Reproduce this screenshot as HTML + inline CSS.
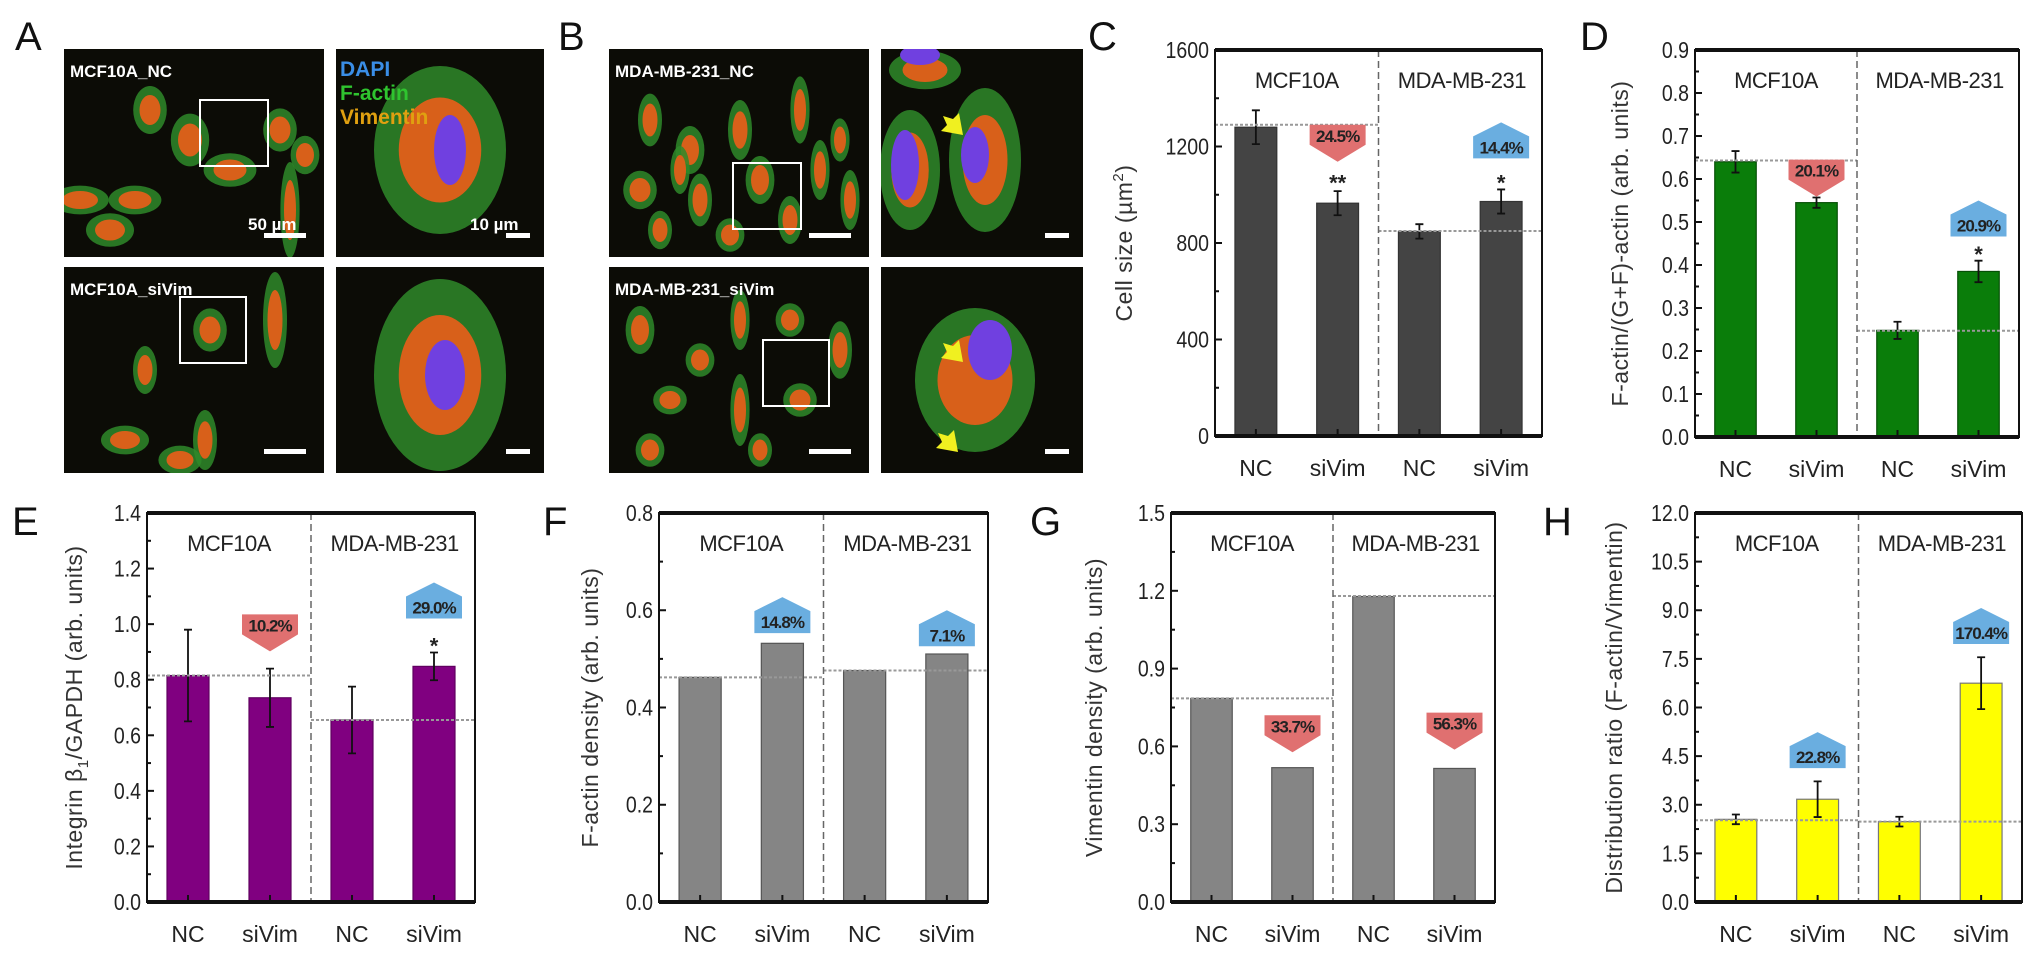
<!DOCTYPE html>
<html><head><meta charset="utf-8"><style>
html,body{margin:0;padding:0;background:#fff;}
svg{display:block;font-family:"Liberation Sans",sans-serif;}
</style></head><body>
<svg id="fig" width="2032" height="953" viewBox="0 0 2032 953" xmlns="http://www.w3.org/2000/svg">
<g font-size="40" fill="#111">
<text x="15" y="50">A</text>
<text x="558" y="50">B</text>
<text x="1088" y="50">C</text>
<text x="1580" y="50">D</text>
<text x="12" y="535">E</text>
<text x="543" y="535">F</text>
<text x="1030" y="535">G</text>
<text x="1543" y="535">H</text>
</g>
<g id="images"></g>
<g id="charts"></g>
</svg>
<script>
// ---- data ----
const categories = ["NC","siVim","NC","siVim"];
const groups = ["MCF10A","MDA-MB-231"];
const cVals=[1280,965,848,972]; const cErr=[70,50,30,50]; const cRef=[1290,850];
const cTicks=[0,400,800,1200,1600];
const cAnnText=["24.5%","14.4%"]; const cAnnDir=["down","up"]; const cAnnVal=[1290,1300]; const cStars=["**","*"]; const cStarVal=[1060,1060];
const dVals=[0.64,0.545,0.248,0.385]; const dErr=[0.025,0.012,0.02,0.025]; const dRef=[0.643,0.247];
const dTicks=[0.0,0.1,0.2,0.3,0.4,0.5,0.6,0.7,0.8,0.9];
const dAnnText=["20.1%","20.9%"]; const dAnnDir=["down","up"]; const dAnnVal=[0.645,0.55]; const dStars=["","*"]; const dStarVal=[0,0.43];
const eVals=[0.815,0.735,0.655,0.848]; const eErr=[0.165,0.105,0.12,0.05]; const eRef=[0.815,0.655];
const eTicks=[0.0,0.2,0.4,0.6,0.8,1.0,1.2,1.4];
const eAnnText=["10.2%","29.0%"]; const eAnnDir=["down","up"]; const eAnnVal=[1.035,1.15]; const eStars=["","*"]; const eStarVal=[0,0.93];
const fVals=[0.462,0.532,0.476,0.51]; const fErr=[0,0,0,0]; const fRef=[0.462,0.476];
const fTicks=[0.0,0.2,0.4,0.6,0.8];
const fAnnText=["14.8%","7.1%"]; const fAnnDir=["up","up"]; const fAnnVal=[0.627,0.6]; const fStars=["",""]; const fStarVal=[0,0];
const gVals=[0.785,0.518,1.178,0.515]; const gErr=[0,0,0,0]; const gRef=[0.785,1.18];
const gTicks=[0.0,0.3,0.6,0.9,1.2,1.5];
const gAnnText=["33.7%","56.3%"]; const gAnnDir=["down","down"]; const gAnnVal=[0.72,0.73]; const gStars=["",""]; const gStarVal=[0,0];
const hVals=[2.55,3.17,2.48,6.75]; const hErr=[0.15,0.55,0.15,0.8]; const hRef=[2.52,2.48];
const hTicks=[0.0,1.5,3.0,4.5,6.0,7.5,9.0,10.5,12.0];
const hAnnText=["22.8%","170.4%"]; const hAnnDir=["up","up"]; const hAnnVal=[5.24,9.07]; const hStars=["",""]; const hStarVal=[0,0];

const NS="http://www.w3.org/2000/svg";
function mk(tag,attrs,parent){const e=document.createElementNS(NS,tag);for(const k in attrs)e.setAttribute(k,attrs[k]);parent.appendChild(e);return e;}

function panel(p){
  const root=document.getElementById('charts');
  const g=mk('g',{},root);
  
  
  const max=p.ticks[p.ticks.length-1];
  const y=v=>p.b-(v/max)*(p.b-p.t);
  const W=p.r-p.l;
  const x=i=>p.l+(i+0.5)*W/4;
  const bw=W*0.128;
  p.vals.forEach((v,i)=>{
    const r=mk('rect',{x:x(i)-bw/2,y:y(v),width:bw,height:p.b-y(v),fill:p.color,stroke:p.stroke,'stroke-width':1.2},g);
    
    
    if(p.err[i]>0){
      const eb=mk('path',{d:`M${x(i)} ${y(v+p.err[i])}V${y(v-p.err[i])}M${x(i)-4} ${y(v+p.err[i])}h8M${x(i)-4} ${y(v-p.err[i])}h8`,stroke:'#111','stroke-width':1.8,fill:'none'},g);
      
      
    }
  });
  p.ref.forEach((v,k)=>{
    const ln=mk('line',{x1:p.l+k*W/2,x2:p.l+(k+1)*W/2,y1:y(v),y2:y(v),stroke:'#999','stroke-width':2,'stroke-dasharray':'3,2'},g);
    
    
  });
  const dv=mk('line',{x1:p.l+W/2,x2:p.l+W/2,y1:p.t,y2:p.b,stroke:'#666','stroke-width':1.5,'stroke-dasharray':'7,4'},g);
  
  
  const fr=mk('path',{d:`M${p.l} ${p.t}H${p.r}V${p.b}H${p.l}Z`,fill:'none',stroke:'#111','stroke-width':2},g);
  
  
  mk('line',{x1:p.l,x2:p.r,y1:p.t,y2:p.t,stroke:'#111','stroke-width':4},g);
  mk('line',{x1:p.l,x2:p.r,y1:p.b,y2:p.b,stroke:'#111','stroke-width':4},g);
  p.ticks.forEach((v,i)=>{
    mk('line',{x1:p.l,x2:p.l+7,y1:y(v),y2:y(v),stroke:'#111','stroke-width':2},g);
    if(i<p.ticks.length-1){const m=(v+p.ticks[i+1])/2;mk('line',{x1:p.l,x2:p.l+4,y1:y(m),y2:y(m),stroke:'#111','stroke-width':2},g);}
    const t=mk('text',{x:p.l-6,y:y(v)+8,'text-anchor':'end','font-size':23,fill:'#222',transform:`translate(${p.l-6} 0) scale(0.85 1) translate(${-(p.l-6)} 0)`},g);
    t.textContent=p.fmt(v);
    
    
  });
  categories.forEach((c,i)=>{
    mk('line',{x1:x(i),x2:x(i),y1:p.b,y2:p.b-7,stroke:'#111','stroke-width':2},g);
    const t=mk('text',{x:x(i),y:p.b+40,'text-anchor':'middle','font-size':23,fill:'#222'},g);
    t.textContent=c;
    
    
  });
  groups.forEach((gr,k)=>{
    const t=mk('text',{x:p.l+W*(k===0?0.25:0.755),y:p.t+38,'text-anchor':'middle','font-size':22,fill:'#222','letter-spacing':'-0.5'},g);
    t.textContent=gr;
    
    
  });
  const yt=mk('text',{x:0,y:0,'text-anchor':'middle','font-size':23,fill:'#333','letter-spacing':'0.5',transform:`translate(${p.tx} ${(p.t+p.b)/2}) rotate(-90)`},g);
  yt.textContent=p.title;
  if(p.sub){const off=p.subDown?6:-9;const ts=mk('tspan',{'font-size':15,dy:off},yt);ts.textContent=p.sub;const t2=mk('tspan',{dy:-off},yt);t2.textContent=p.title2;}
  
  
  p.annText.forEach((txt,k)=>{
    const i=k*2+1, cx=x(i), w=56, v=y(p.annVal[k]);
    let d,ty,fill;
    if(p.annDir[k]==='down'){fill='#e07070';d=`M${cx-w/2} ${v}h${w}v20l${-w/2} 17l${-w/2} -17Z`;ty=v+17;}
    else{fill='#6aaee0';d=`M${cx} ${v}l${w/2} 14v22h${-w}v-22Z`;ty=v+31;}
    const a=mk('path',{d:d,fill:fill},g);
    
    
    const t=mk('text',{x:cx,y:ty,'text-anchor':'middle','font-size':17,'font-weight':'bold',fill:'#222','letter-spacing':'-1'},g);
    t.textContent=txt;
    
    
    if(p.stars[k]){const s=mk('text',{x:cx,y:y(p.starVal[k])+10,'text-anchor':'middle','font-size':22,'font-weight':'bold',fill:'#222'},g);s.textContent=p.stars[k];
      
      }
  });
}
const f1=v=>v.toFixed(1), f0=v=>String(v);
panel({name:'chart-c-cell-size',l:1215,r:1542,t:50,b:436,vals:cVals,err:cErr,ref:cRef,ticks:cTicks,fmt:f0,color:'#444',stroke:'#333',title:'Cell size (µm',sub:'2',title2:')',tx:1132,annText:cAnnText,annDir:cAnnDir,annVal:cAnnVal,stars:cStars,starVal:cStarVal});
panel({name:'chart-d-factin-ratio',l:1695,r:2019,t:50,b:437,vals:dVals,err:dErr,ref:dRef,ticks:dTicks,fmt:f1,color:'#0a7d0a',stroke:'#065006',title:'F-actin/(G+F)-actin (arb. units)',tx:1628,annText:dAnnText,annDir:dAnnDir,annVal:dAnnVal,stars:dStars,starVal:dStarVal});
panel({name:'chart-e-integrin',l:147,r:475,t:513,b:902,vals:eVals,err:eErr,ref:eRef,ticks:eTicks,fmt:f1,color:'#800080',stroke:'#600060',title:'Integrin β',sub:'1',subDown:true,title2:'/GAPDH (arb. units)',tx:82,annText:eAnnText,annDir:eAnnDir,annVal:eAnnVal,stars:eStars,starVal:eStarVal});
panel({name:'chart-f-factin-density',l:659,r:988,t:513,b:902,vals:fVals,err:fErr,ref:fRef,ticks:fTicks,fmt:f1,color:'#858585',stroke:'#555',title:'F-actin density (arb. units)',tx:598,annText:fAnnText,annDir:fAnnDir,annVal:fAnnVal,stars:fStars,starVal:fStarVal});
panel({name:'chart-g-vimentin-density',l:1171,r:1495,t:513,b:902,vals:gVals,err:gErr,ref:gRef,ticks:gTicks,fmt:f1,color:'#858585',stroke:'#555',title:'Vimentin density (arb. units)',tx:1102,annText:gAnnText,annDir:gAnnDir,annVal:gAnnVal,stars:gStars,starVal:gStarVal});
panel({name:'chart-h-distribution-ratio',l:1695,r:2022,t:513,b:902,vals:hVals,err:hErr,ref:hRef,ticks:hTicks,fmt:f1,color:'#ffff00',stroke:'#777',title:'Distribution ratio (F-actin/Vimentin)',tx:1622,annText:hAnnText,annDir:hAnnDir,annVal:hAnnVal,stars:hStars,starVal:hStarVal});

// ---- micrographs (decorative) ----
const im=document.getElementById('images');
const cells=[
 {x:64,y:49,w:260,h:208,name:'image-mcf10a-nc',label:'MCF10A_NC',blobs:[[230,170,22,14],[190,140,16,22],[150,110,14,20],[80,200,24,12],[135,200,22,12],[280,130,14,18],[305,155,12,16],[110,230,20,14],[290,210,8,40]]},
 {x:336,y:49,w:208,h:208,name:'image-mcf10a-nc-zoom',blobs:[[440,150,55,70]],nuc:[[450,150,16,35]]},
 {x:64,y:267,w:260,h:206,name:'image-mcf10a-sivim',label:'MCF10A_siVim',blobs:[[210,330,14,18],[145,370,10,20],[125,440,20,12],[205,440,10,25],[275,320,10,40],[180,460,18,12]]},
 {x:336,y:267,w:208,h:206,name:'image-mcf10a-sivim-zoom',blobs:[[440,375,55,80]],nuc:[[445,375,20,35]]},
 {x:609,y:49,w:260,h:208,name:'image-mdamb231-nc',label:'MDA-MB-231_NC',blobs:[[650,120,10,22],[690,150,12,20],[740,130,10,25],[800,110,8,28],[640,190,14,16],[700,200,10,22],[760,180,12,20],[820,170,8,25],[660,230,10,16],[730,235,12,14],[790,220,10,20],[850,200,8,25],[680,170,8,20],[840,140,8,18]]},
 {x:881,y:49,w:202,h:208,name:'image-mdamb231-nc-zoom',blobs:[[925,70,30,16],[910,170,25,50],[985,160,30,60]],nuc:[[920,55,20,10],[905,165,14,35],[975,155,14,28]]},
 {x:609,y:267,w:260,h:206,name:'image-mdamb231-sivim',label:'MDA-MB-231_siVim',blobs:[[640,330,12,20],[700,360,12,14],[740,320,8,25],[790,320,12,14],[670,400,14,12],[740,410,8,30],[800,400,14,14],[840,350,10,24],[650,450,12,14],[760,450,10,14]]},
 {x:881,y:267,w:202,h:206,name:'image-mdamb231-sivim-zoom',blobs:[[975,380,50,60]],nuc:[[990,350,22,30]]}
];
cells.forEach(c=>{
  const g=mk('g',{},im);
  
  
  mk('rect',{x:c.x,y:c.y,width:c.w,height:c.h,fill:'#0c0c06'},g);
  const clip='clip-'+c.name;
  const cp=mk('clipPath',{id:clip},g);mk('rect',{x:c.x,y:c.y,width:c.w,height:c.h},cp);
  const inner=mk('g',{'clip-path':`url(#${clip})`},g);
  c.blobs.forEach(b=>{
    mk('ellipse',{cx:b[0],cy:b[1],rx:b[2]*1.2,ry:b[3]*1.2,fill:'#2f8a2a',opacity:0.85},inner);
    mk('ellipse',{cx:b[0],cy:b[1],rx:b[2]*0.75,ry:b[3]*0.75,fill:'#d8601a'},inner);
  });
  (c.nuc||[]).forEach(n=>mk('ellipse',{cx:n[0],cy:n[1],rx:n[2],ry:n[3],fill:'#7040e0'},inner));
  if(c.label){const t=mk('text',{x:c.x+6,y:c.y+28,'font-size':17,'font-weight':'bold',fill:'#fff'},g);t.textContent=c.label;
    
    }
  mk('rect',{x:c.x+c.w-(c.w>240?60:38),y:c.y+c.h-24,width:c.w>240?42:24,height:5,fill:'#fff'},g);
});
[[200,100,68,66],[180,297,66,66],[733,163,68,66],[763,340,66,66]].forEach(b=>{
  const r=mk('rect',{x:b[0],y:b[1],width:b[2],height:b[3],fill:'none',stroke:'#fff','stroke-width':2},im);
  
  
});
const leg=[['DAPI','#3a8ee6',76],['F-actin','#2fc42f',100],['Vimentin','#e0a010',124]];
leg.forEach(l=>{const t=mk('text',{x:340,y:l[2],'font-size':21,'font-weight':'bold',fill:l[1]},im);t.textContent=l[0];
  
  });
[['50 µm',248,230],['10 µm',470,230]].forEach(s=>{const t=mk('text',{x:s[1],y:s[2],'font-size':17,'font-weight':'bold',fill:'#fff'},im);t.textContent=s[0];
  
  });
[[955,128],[955,355],[950,445]].forEach(a=>{
  const p=mk('path',{d:`M${a[0]-12} ${a[1]-12}l10 3l6 -6l4 22l-22 -4l6 -6z`,fill:'#f0f020'},im);
  
  
});
</script>
</body></html>
